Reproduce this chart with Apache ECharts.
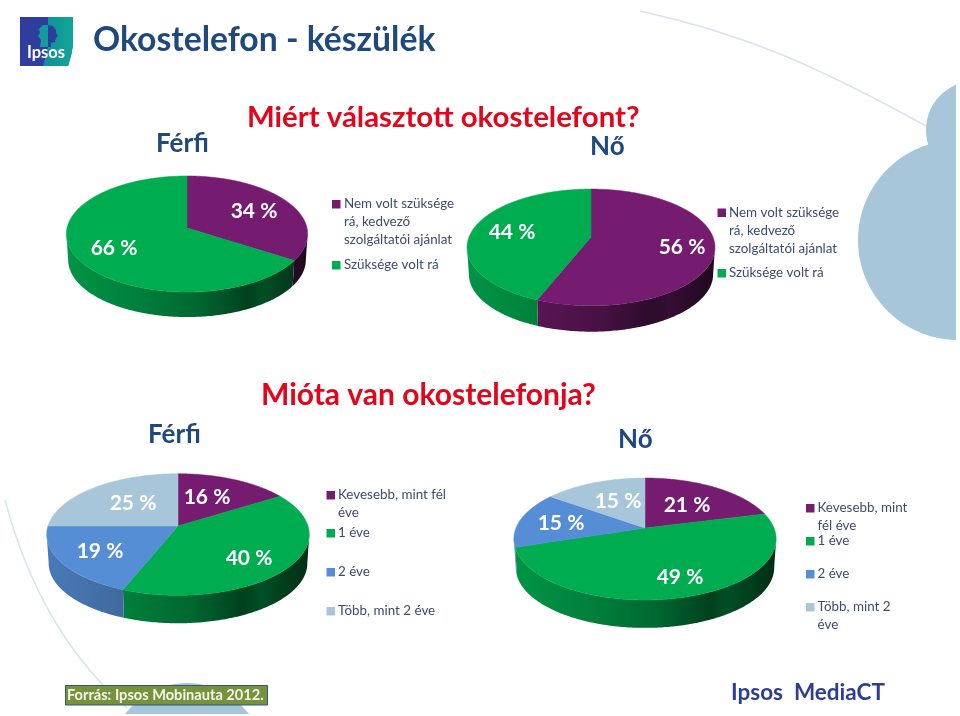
<!DOCTYPE html>
<html><head><meta charset="utf-8">
<style>html,body{margin:0;padding:0;background:#fff}#c{width:960px;height:716px}</style>
<script src="https://cdn.jsdelivr.net/npm/echarts@6/dist/echarts.min.js"></script>
</head><body><div id="c"></div>
<script>
// ---- data ----
const whyCategories = ['Nem volt szüksége rá, kedvező szolgáltatói ajánlat', 'Szüksége volt rá'];
const whyMen = [34, 66];
const whyWomen = [56, 44];
const sinceCategories = ['Kevesebb, mint fél éve', '1 éve', '2 éve', 'Több, mint 2 éve'];
const sinceMen = [16, 40, 19, 25];
const sinceWomen = [21, 49, 15, 15];

// ---- style / layout ----
const FONT = 'Lato, "Open Sans", sans-serif';
const NAVY = '#1F497D', RED = '#E3051B', LEG = '#3C4B6E';
const PURPLE = '#751C70', GREEN = '#00AC50', BLUE = '#558ED5', LIGHT = '#A7C6DA';
const SHADE = [[0, .86], [.3, .74], [.55, .6], [.75, .38], [.82, .46], [1, .27]];

function hex(c) { return [1, 3, 5].map(i => parseInt(c.substr(i, 2), 16)); }
function shade(c, m) { const r = hex(c).map(v => Math.round(v * m)); return 'rgb(' + r.join(',') + ')'; }

const pies = [
  { name: 'Férfi – Miért', values: whyMen, cats: whyCategories, colors: [PURPLE, GREEN], cx: 187, cy: 228, rx: 120, ry: 57.4, k: .103, depth: 26,
    labels: [[254, 211], [114, 248]] },
  { name: 'Nő – Miért', values: whyWomen, cats: whyCategories, colors: [PURPLE, GREEN], cx: 591, cy: 237, rx: 122, ry: 56.5, k: .178, depth: 27,
    labels: [[682, 247], [512, 232]] },
  { name: 'Férfi – Mióta', values: sinceMen, cats: sinceCategories, colors: [PURPLE, GREEN, BLUE, LIGHT], cx: 178, cy: 526, rx: 130, ry: 59.6, k: .14, depth: 29,
    labels: [[207, 497], [249, 558], [100, 551], [133, 503]] },
  { name: 'Nő – Mióta', values: sinceWomen, cats: sinceCategories, colors: [PURPLE, GREEN, BLUE, LIGHT], cx: 645, cy: 528, rx: 129, ry: 59, k: .18, depth: 29,
    labels: [[687, 505], [680, 577], [561, 523], [618, 501]] }
];

function project(p, th, lower) {
  const u = Math.sin(th), v = Math.cos(th), w = 1 + p.k * v;
  const s = lower ? .985 : 1;
  return [p.cx + p.rx * u / w * s, p.cy - p.ry * v / w * s + (lower ? p.depth : 0)];
}

function sliceRender(p) {
  return function (params, api) {
    const i = params.dataIndex;
    const total = p.values.reduce((a, b) => a + b, 0);
    const before = p.values.slice(0, i).reduce((a, b) => a + b, 0);
    const val = api.value(0);
    const a0 = before / total * 2 * Math.PI, a1 = (before + val) / total * 2 * Math.PI;
    const color = p.colors[i];
    const children = [];
    // wall
    const vis0 = Math.acos(-p.k), vis1 = 2 * Math.PI - vis0;
    const s0 = Math.max(a0, vis0), s1 = Math.min(a1, vis1);
    if (s1 > s0) {
      const up = [], low = [];
      const n = Math.max(2, Math.ceil((s1 - s0) / .015));
      for (let j = 0; j <= n; j++) {
        const t = s0 + (s1 - s0) * j / n;
        up.push(project(p, t, false)); low.push(project(p, t, true));
      }
      const x0 = p.cx - p.rx, x1 = p.cx + p.rx;
      children.push({
        type: 'polygon', shape: { points: up.concat(low.reverse()) },
        style: {
          fill: new echarts.graphic.LinearGradient(x0, 0, x1, 0,
            SHADE.map(s => ({ offset: s[0], color: shade(color, s[1]) })), true)
        }
      });
    }
    // top face
    const pts = [[p.cx, p.cy]];
    const m = Math.max(2, Math.ceil((a1 - a0) / .012));
    for (let j = 0; j <= m; j++) pts.push(project(p, a0 + (a1 - a0) * j / m, false));
    children.push({ type: 'polygon', shape: { points: pts }, style: { fill: color, stroke: color, lineWidth: .5 } });
    // value label
    children.push({
      type: 'text', z2: 10,
      style: { x: p.labels[i][0], y: p.labels[i][1], text: val + ' %', fill: '#fff', fontFamily: FONT, fontWeight: 700, fontSize: 21, align: 'center', verticalAlign: 'middle' }
    });
    return { type: 'group', children };
  };
}

// ---- decorations ----
function disc(cx, cy, r, maxX, maxY) {
  const pts = [];
  for (let a = 0; a < 360; a += 2) {
    const t = a * Math.PI / 180;
    pts.push([Math.min(cx + r * Math.cos(t), maxX), Math.min(cy + r * Math.sin(t), maxY)]);
  }
  return { type: 'polygon', shape: { points: pts }, style: { fill: LIGHT } };
}
function txt(x, y, text, size, fill, weight, align) {
  return { type: 'text', x: x, y: y, style: { text, fontFamily: FONT, fontSize: size, fill, fontWeight: weight || 400, align: align || 'left', verticalAlign: 'middle' } };
}
function legend(sqX, textX, rows, size) {
  const out = [];
  rows.forEach(r => {
    out.push({ type: 'rect', shape: { x: sqX, y: r.y - 4, width: 8.5, height: 8.5 }, style: { fill: r.color } });
    r.lines.forEach((l, i) => out.push(txt(textX, r.lh[i], l, size, LEG)));
  });
  return out;
}
const S = 13.4;
const graphics = [
  // background art
  disc(975, 130, 49, 956, 999), disc(958, 240, 100, 956, 999), disc(187, 760, 77, 999, 714),
  { type: 'bezierCurve', shape: { x1: 640, y1: 11, cpx1: 740, cpy1: 33, cpx2: 810, cpy2: 62, x2: 926, y2: 126 }, style: { stroke: '#D8E4E8', lineWidth: 1.5, fill: null } },
  { type: 'bezierCurve', shape: { x1: 5, y1: 500, cpx1: 25, cpy1: 575, cpx2: 60, cpy2: 650, x2: 127, y2: 708 }, style: { stroke: '#D8E4E8', lineWidth: 1.5, fill: null } },
  // logo
  { type: 'polygon', shape: { points: [[20, 17], [73, 17], [73, 45], [71, 56], [68, 66], [20, 66]] }, style: { fill: '#2F3E9E' } },
  { type: 'polygon', shape: { points: [[48, 17], [73, 17], [73, 45], [71, 56], [68, 66], [43, 66], [48, 48]] }, style: { fill: new echarts.graphic.LinearGradient(0, 0, 1, 0, [{ offset: 0, color: '#0F8E9A' }, { offset: 1, color: '#12A695' }]) } },
  { type: 'polygon', shape: { points: [[48, 25], [43, 25], [39, 29], [40, 33], [38, 36], [41, 40], [40, 47], [48, 47]] }, style: { fill: '#149C9C' } },
  { type: 'polygon', shape: { points: [[48, 25], [53, 26], [56, 30], [56, 33], [58, 36], [56, 38], [55, 42], [51, 43], [51, 47], [48, 47]] }, style: { fill: '#2F3E9E' } },
  txt(46, 52.5, 'Ipsos', 16.5, '#fff', 700, 'center'),
  // titles
  txt(93, 40, 'Okostelefon - készülék', 33.7, NAVY, 700),
  txt(247, 118, 'Miért választott okostelefont?', 29.4, RED, 700),
  txt(156, 144, 'Férfi', 26, NAVY, 700),
  txt(590, 147, 'Nő', 26, NAVY, 700),
  txt(261, 395, 'Mióta van okostelefonja?', 30, RED, 700),
  txt(148, 435, 'Férfi', 26, NAVY, 700),
  txt(618, 440, 'Nő', 26, NAVY, 700),
  // legends
  ...legend(332, 344, [
    { y: 204, color: PURPLE, lines: ['Nem volt szüksége', 'rá, kedvező', 'szolgáltatói ajánlat'], lh: [204, 222, 240] },
    { y: 265, color: GREEN, lines: ['Szüksége volt rá'], lh: [265] }], S),
  ...legend(717.5, 729, [
    { y: 212.5, color: PURPLE, lines: ['Nem volt szüksége', 'rá, kedvező', 'szolgáltatói ajánlat'], lh: [212.5, 230.5, 248.5] },
    { y: 273, color: GREEN, lines: ['Szüksége volt rá'], lh: [273] }], S),
  ...legend(326.5, 338, [
    { y: 495, color: PURPLE, lines: ['Kevesebb, mint fél', 'éve'], lh: [495, 513] },
    { y: 533, color: GREEN, lines: ['1 éve'], lh: [533] },
    { y: 572, color: BLUE, lines: ['2 éve'], lh: [572] },
    { y: 611, color: LIGHT, lines: ['Több, mint 2 éve'], lh: [611] }], S),
  ...legend(806, 817.5, [
    { y: 508, color: PURPLE, lines: ['Kevesebb, mint', 'fél éve'], lh: [508, 525.5] },
    { y: 541, color: GREEN, lines: ['1 éve'], lh: [541] },
    { y: 574, color: BLUE, lines: ['2 éve'], lh: [574] },
    { y: 607, color: LIGHT, lines: ['Több, mint 2', 'éve'], lh: [607, 625] }], S),
  // footer
  { type: 'rect', shape: { x: 65.5, y: 685.5, width: 202, height: 19.5 }, style: { fill: '#76923C', stroke: '#2F5A6E', lineWidth: 1 } },
  txt(67, 695.5, 'Forrás: Ipsos Mobinauta 2012.', 14.6, '#F4F6E8', 700),
  txt(731, 693, 'Ipsos  MediaCT', 22.5, '#2C3E94', 700)
];

const chart = echarts.init(document.getElementById('c'), null, { renderer: 'canvas' });
chart.setOption({
  backgroundColor: '#fff',
  animation: false,
  tooltip: { show: false },
  graphic: { elements: graphics },
  series: pies.map(p => ({
    type: 'custom', name: p.name, coordinateSystem: 'none', silent: true, z: 5,
    renderItem: sliceRender(p),
    data: p.values.map((v, i) => ({ name: p.cats[i], value: [v] }))
  }))
});
</script></body></html>
